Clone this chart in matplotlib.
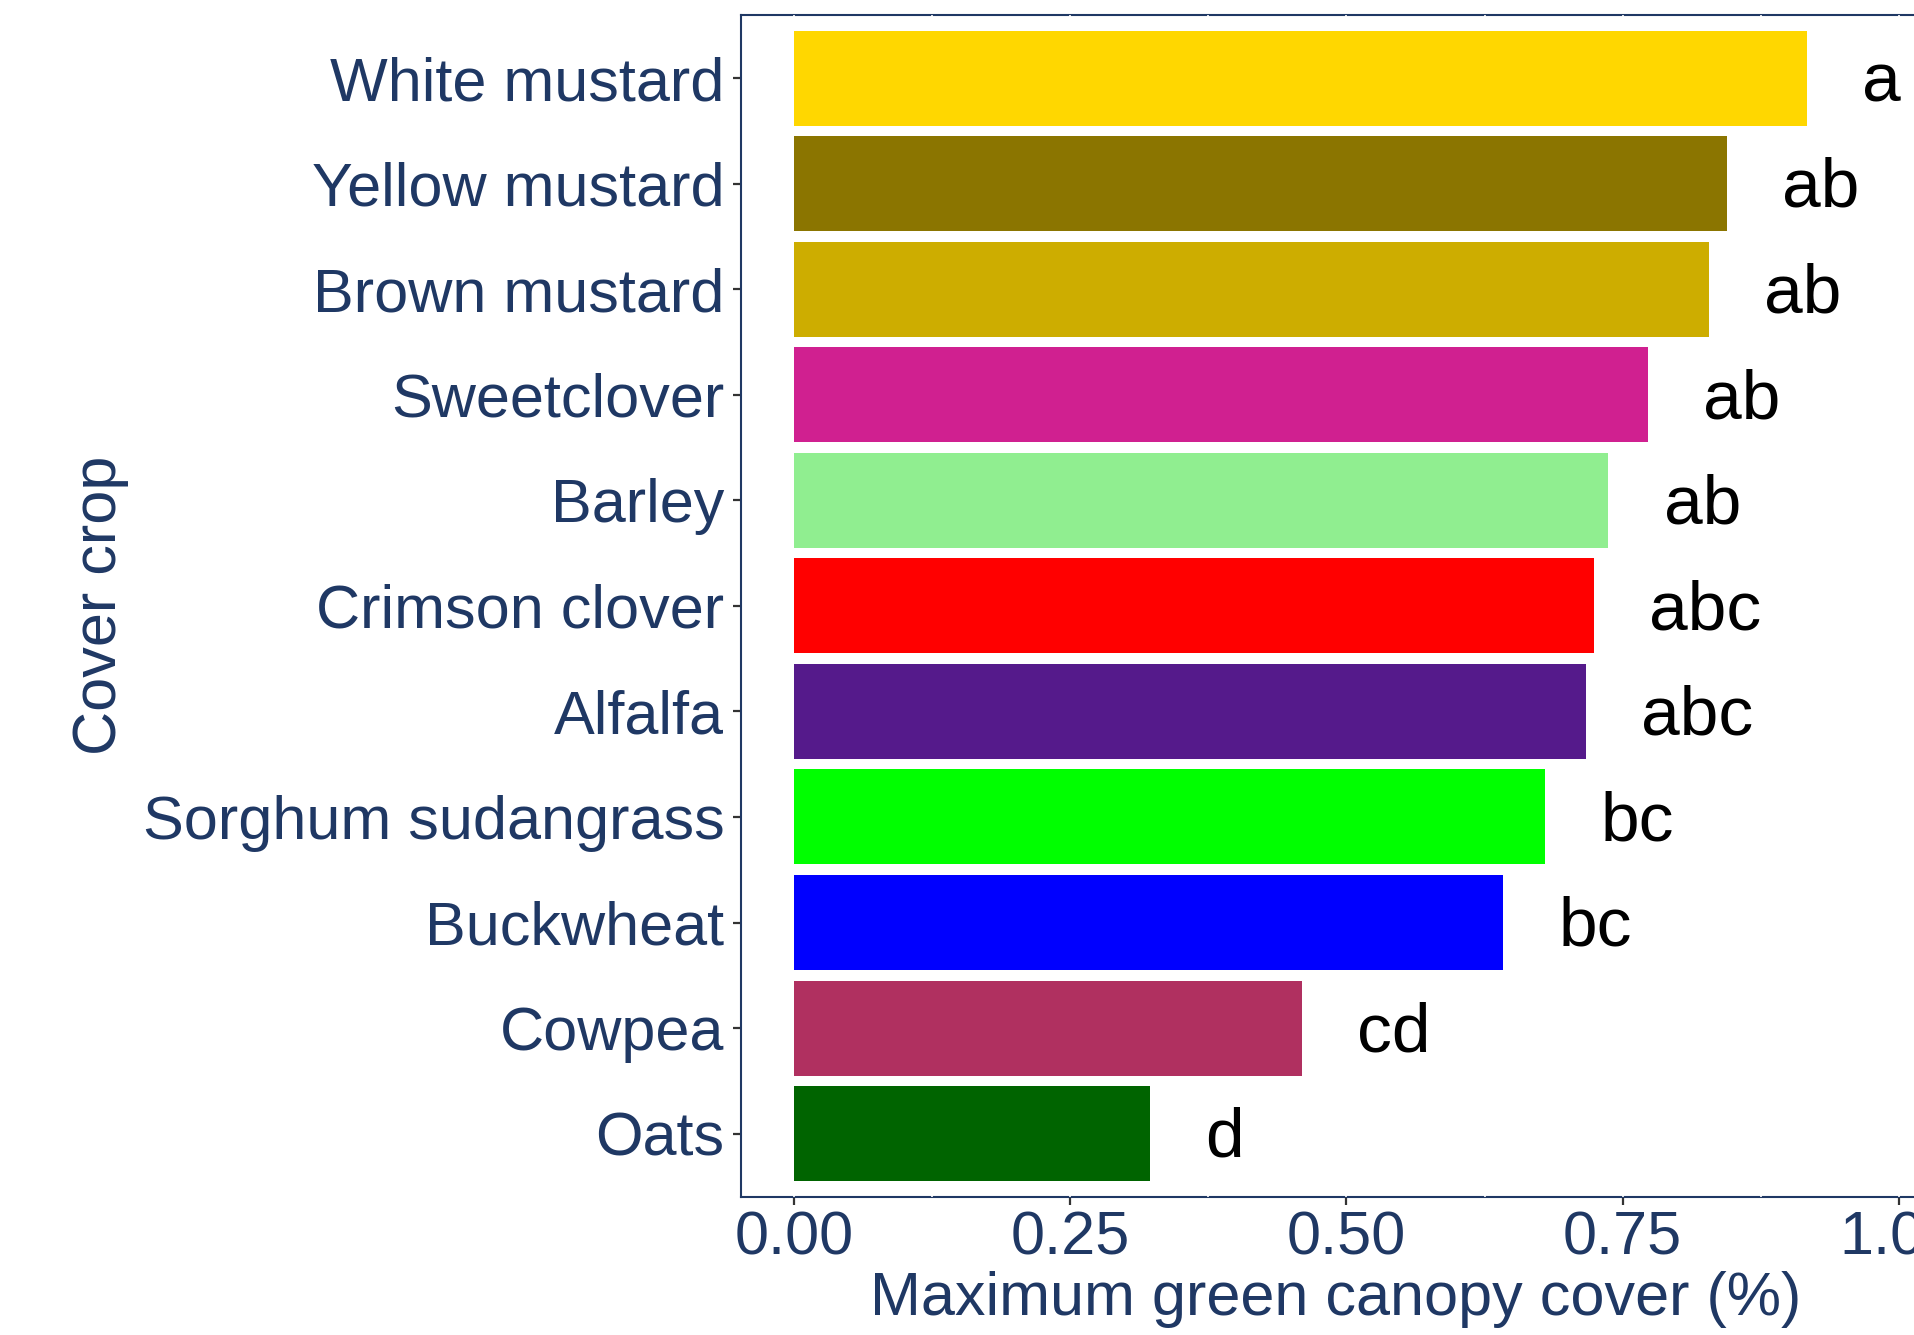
import matplotlib.pyplot as plt

plt.rcParams['font.family'] = ['Liberation Sans', 'DejaVu Sans']

crops = ["White mustard", "Yellow mustard", "Brown mustard", "Sweetclover",
         "Barley", "Crimson clover", "Alfalfa", "Sorghum sudangrass",
         "Buckwheat", "Cowpea", "Oats"]
canopy = [0.917, 0.844, 0.828, 0.773, 0.737, 0.724, 0.717, 0.680, 0.642, 0.460, 0.322]
letters = ["a", "ab", "ab", "ab", "ab", "abc", "abc", "bc", "bc", "cd", "d"]
colors = ["#FFD700", "#8B7500", "#CDAD00", "#D02090", "#90EE90", "#FF0000",
          "#551A8B", "#00FF00", "#0000FF", "#B03060", "#006400"]

navy = "#1f3864"

fig = plt.figure(figsize=(19.15, 13.35), dpi=100)
ax = fig.add_axes([741 / 1915, 138 / 1335, (1932 - 741) / 1915, (1197 - 14.7) / 1335])

# first crop at the top
ypos = list(range(len(crops) - 1, -1, -1))

# white grid (only shows where it crosses the panel border)
for g in [i * 0.125 for i in range(9)]:
    ax.axvline(g, color="white", lw=1.2, zorder=3)

ax.barh(ypos, canopy, height=0.9, color=colors, zorder=4)
for y, v, lab in zip(ypos, canopy, letters):
    ax.text(v + 0.05, y - 0.05, lab, ha="left", va="center", fontsize=50,
            color="black", zorder=5)

ax.set_xlim(-0.048, 1.03)
ax.set_ylim(-0.6, len(crops) - 0.4)

ax.set_xticks([0, 0.25, 0.5, 0.75, 1.0])
ax.set_xticklabels(["0.00", "0.25", "0.50", "0.75", "1.00"])
ax.set_yticks(ypos)
ax.set_yticklabels(crops)

ax.tick_params(axis="both", labelsize=44, labelcolor=navy, color="#333333",
               length=6, width=1.6)
ax.tick_params(axis="x", pad=4)
ax.tick_params(axis="y", pad=6)

for side in ["left", "bottom", "top"]:
    ax.spines[side].set_color(navy)
    ax.spines[side].set_linewidth(1.5)
ax.spines["right"].set_visible(False)

fig.text(1336 / 1915, 1 - 1299 / 1335, "Maximum green canopy cover (%)",
         ha="center", va="center", fontsize=44, color=navy)
fig.text(101 / 1915, 1 - 605 / 1335, "Cover crop", rotation=90,
         ha="center", va="center", fontsize=44, color=navy)

fig.savefig("out.png", dpi=100)
